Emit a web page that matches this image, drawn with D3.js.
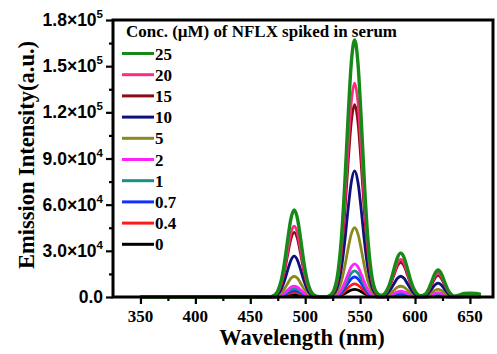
<!DOCTYPE html>
<html>
<head>
<meta charset="utf-8">
<script src="https://cdn.jsdelivr.net/npm/d3@7"></script>
<style>
  html, body { margin: 0; padding: 0; background: #fff; }
  svg { display: block; }
</style>
</head>
<body>
<svg id="chart" width="497" height="354"></svg>
<script>
// Wavelength grid (nm) shared by every spectrum
const wavelength = [350, 400, 450, 466, 472, 475, 478, 481, 484, 487, 490, 493, 496, 499, 502, 505,
  510, 515, 520, 525, 530, 533, 536, 539, 542, 545, 548, 551, 554, 557, 560, 565, 569,
  572, 575, 578, 581, 584, 587, 590, 593, 596, 599, 602, 605, 609,
  612, 615, 618, 621, 624, 627, 630, 633, 636, 640, 645, 650, 655, 660];

// NFLX concentrations (µM), legend order
const concentrations = ["25", "20", "15", "10", "5", "2", "1", "0.7", "0.4", "0"];

// Emission intensity (a.u.) for each concentration
const em25 = [0, 0, 0, 0, 1230, 3960, 10280, 21640, 36890, 50790, 56500, 50790, 36890, 21640, 10280, 3960,
  500, 30, 280, 2840, 16870, 38410, 72980, 115730, 152300, 167000, 152300, 115730, 72980, 38410, 16870, 2930, 1090,
  1995, 5187, 10916, 18611, 25622, 28500, 25622, 18611, 10916, 5187, 1995, 870, 1720,
  4585, 9660, 15085, 17500, 15085, 9660, 4585, 1680, 570, 1170, 2250, 2500, 2250, 1750];
const em20 = [0, 0, 0, 0, 1010, 3220, 8370, 17620, 30040, 41350, 46000, 41350, 30040, 17620, 8370, 3220,
  410, 0, 280, 2360, 14040, 31970, 60740, 96330, 126770, 139000, 126770, 96330, 60740, 31970, 14040, 2440, 960,
  1720, 4460, 9380, 16000, 22030, 24500, 22030, 16000, 9380, 4460, 1720, 770, 1520,
  4060, 8560, 13360, 15500, 13360, 8560, 4060, 1480, 480, 860, 1620, 1800, 1620, 1260];
const em15 = [0, 0, 0, 0, 920, 2940, 7640, 16090, 27430, 37760, 42000, 37760, 27430, 16090, 7640, 2940,
  380, 0, 250, 2130, 12630, 28750, 54630, 86630, 114000, 125000, 114000, 86630, 54630, 28750, 12630, 2190, 870,
  1580, 4100, 8620, 14690, 20230, 22500, 20230, 14690, 8620, 4100, 1580, 710, 1370,
  3670, 7730, 12070, 14000, 12070, 7730, 3670, 1330, 430, 720, 1350, 1500, 1350, 1050];
const em10 = [0, 0, 0, 0, 580, 1860, 4820, 10150, 17300, 23820, 26500, 23820, 17300, 10150, 4820, 1860,
  240, 0, 160, 1390, 8280, 18860, 35830, 56830, 74780, 82000, 74780, 56830, 35830, 18860, 8280, 1440, 540,
  950, 2460, 5170, 8820, 12140, 13500, 12140, 8820, 5170, 2460, 950, 430, 880,
  2360, 4970, 7760, 9000, 7760, 4970, 2360, 860, 280, 480, 900, 1000, 900, 700];
const em5 = [0, 0, 0, 0, 300, 950, 2460, 5170, 8820, 12140, 13500, 12140, 8820, 5170, 2460, 950,
  120, 0, 90, 770, 4550, 10350, 19670, 31190, 41040, 45000, 41040, 31190, 19670, 10350, 4550, 790, 290,
  490, 1270, 2680, 4570, 6290, 7000, 6290, 4570, 2680, 1270, 490, 230, 490,
  1310, 2760, 4310, 5000, 4310, 2760, 1310, 480, 160, 290, 540, 600, 540, 420];
const em2 = [0, 0, 0, 0, 150, 490, 1270, 2680, 4570, 6290, 7000, 6290, 4570, 2680, 1270, 490,
  60, 0, 40, 370, 2170, 4950, 9400, 14900, 19610, 21500, 19610, 14900, 9400, 4950, 2170, 380, 150,
  270, 690, 1460, 2480, 3420, 3800, 3420, 2480, 1460, 690, 270, 130, 270,
  730, 1550, 2410, 2800, 2410, 1550, 730, 270, 90, 190, 360, 400, 360, 280];
const em1 = [0, 0, 0, 0, 120, 390, 1000, 2110, 3590, 4940, 5500, 4940, 3590, 2110, 1000, 390,
  50, 0, 30, 290, 1720, 3910, 7430, 11780, 15500, 17000, 15500, 11780, 7430, 3910, 1720, 300, 120,
  210, 550, 1150, 1960, 2700, 3000, 2700, 1960, 1150, 550, 210, 100, 210,
  580, 1210, 1900, 2200, 1900, 1210, 580, 210, 70, 140, 270, 300, 270, 210];
const em07 = [0, 0, 0, 0, 90, 290, 760, 1610, 2740, 3780, 4200, 3780, 2740, 1610, 760, 290,
  40, 0, 30, 220, 1310, 2990, 5680, 9010, 11860, 13000, 11860, 9010, 5680, 2990, 1310, 230, 90,
  160, 420, 880, 1500, 2070, 2300, 2070, 1500, 880, 420, 160, 80, 160,
  420, 880, 1380, 1600, 1380, 880, 420, 150, 50, 120, 230, 250, 230, 180];
const em04 = [0, 0, 0, 0, 70, 210, 550, 1150, 1960, 2700, 3000, 2700, 1960, 1150, 550, 210,
  30, 0, 20, 140, 860, 1960, 3710, 5890, 7750, 8500, 7750, 5890, 3710, 1960, 860, 150, 60,
  110, 290, 610, 1040, 1440, 1600, 1440, 1040, 610, 290, 110, 50, 110,
  290, 610, 950, 1100, 950, 610, 290, 110, 40, 90, 180, 200, 180, 140];
const em0 = [0, 0, 0, 0, 30, 110, 270, 570, 980, 1350, 1500, 1350, 980, 570, 270, 110,
  10, 0, 10, 90, 510, 1150, 2190, 3470, 4560, 5000, 4560, 3470, 2190, 1150, 510, 90, 30,
  60, 160, 340, 590, 810, 900, 810, 590, 340, 160, 60, 30, 60,
  160, 330, 520, 600, 520, 330, 160, 60, 20, 50, 90, 100, 90, 70];

const intensities = [em25, em20, em15, em10, em5, em2, em1, em07, em04, em0];
const colors = ["#168a16", "#ff2a82", "#8b0a14", "#10107c", "#8a8a1c", "#ff22ff", "#17908a", "#1030ff", "#ff1a1a", "#000000"];

const xTicks = [350, 400, 450, 500, 550, 600, 650];
const yTicks = [0, 30000, 60000, 90000, 120000, 150000, 180000];
const yTickLabels = [["0.0", ""], ["3.0×10", "4"], ["6.0×10", "4"], ["9.0×10", "4"],
  ["1.2×10", "5"], ["1.5×10", "5"], ["1.8×10", "5"]];

const legendTitle = "Conc. (µM) of NFLX spiked in serum";
const xTitle = "Wavelength (nm)";
const yTitle = "Emission Intensity(a.u.)";

// Layout
const plot = { left: 113, right: 493, top: 20, bottom: 297 };
const serif = "'Liberation Serif', 'Times New Roman', serif";
const sans = "'Liberation Sans', Arial, sans-serif";

const svg = d3.select("#chart");

const x = d3.scaleLinear().domain([325, 671]).range([plot.left, plot.right]);
const y = d3.scaleLinear().domain([0, 180000]).range([plot.bottom, plot.top]);

// Spectra: lowest concentration first so the strongest curve sits on top
const line = d3.line()
  .x((d, i) => x(wavelength[i]))
  .y(d => y(d))
  .curve(d3.curveMonotoneX);

const order = d3.range(intensities.length).reverse();
svg.append("g")
  .selectAll("path")
  .data(order)
  .join("path")
  .attr("d", i => line(intensities[i]))
  .attr("fill", "none")
  .attr("stroke", i => colors[i])
  .attr("stroke-width", i => i === 0 ? 3.4 : 2.8)
  .attr("stroke-linejoin", "round");

// Frame
svg.append("rect")
  .attr("x", plot.left).attr("y", plot.top)
  .attr("width", plot.right - plot.left).attr("height", plot.bottom - plot.top)
  .attr("fill", "none").attr("stroke", "#000").attr("stroke-width", 3);

// X axis ticks (major + minor)
const xMinor = d3.range(350, 675, 25).filter(v => !xTicks.includes(v));
const xAxis = svg.append("g").attr("transform", `translate(0,${plot.bottom})`);
xAxis.call(d3.axisBottom(x).tickValues(xMinor).tickSize(4).tickFormat(""));
xAxis.append("g").call(d3.axisBottom(x).tickValues(xTicks).tickSize(7).tickFormat(""));
xAxis.selectAll(".domain").remove();
xAxis.selectAll("line").attr("stroke", "#000").attr("stroke-width", 2.2);

svg.append("g").selectAll("text")
  .data(xTicks)
  .join("text")
  .attr("x", d => x(d))
  .attr("y", 322)
  .attr("text-anchor", "middle")
  .attr("font-family", serif)
  .attr("font-weight", "bold")
  .attr("font-size", 17)
  .text(d => d);

// Y axis ticks (major + minor)
const yMinor = d3.range(15000, 180000, 30000);
const yAxis = svg.append("g").attr("transform", `translate(${plot.left},0)`);
yAxis.call(d3.axisLeft(y).tickValues(yMinor).tickSize(4).tickFormat(""));
yAxis.append("g").call(d3.axisLeft(y).tickValues(yTicks).tickSize(7).tickFormat(""));
yAxis.selectAll(".domain").remove();
yAxis.selectAll("line").attr("stroke", "#000").attr("stroke-width", 2.2);

const yLab = svg.append("g").selectAll("text")
  .data(yTicks)
  .join("text")
  .attr("x", 103)
  .attr("y", d => y(d) + 6)
  .attr("text-anchor", "end")
  .attr("font-family", sans)
  .attr("font-weight", "bold")
  .attr("font-size", 17.5);
yLab.append("tspan").text((d, i) => yTickLabels[i][0]);
yLab.append("tspan")
  .attr("dy", -8)
  .attr("font-size", 11.5)
  .text((d, i) => yTickLabels[i][1]);

// Axis titles
svg.append("text")
  .attr("x", 302)
  .attr("y", 345)
  .attr("text-anchor", "middle")
  .attr("font-family", serif)
  .attr("font-weight", "bold")
  .attr("font-size", 22.5)
  .text(xTitle);

svg.append("text")
  .attr("transform", "translate(34,155) rotate(-90)")
  .attr("text-anchor", "middle")
  .attr("font-family", serif)
  .attr("font-weight", "bold")
  .attr("font-size", 22.5)
  .text(yTitle);

// Legend
const legend = svg.append("g");
legend.append("text")
  .attr("x", 126).attr("y", 37)
  .attr("font-family", serif)
  .attr("font-weight", "bold")
  .attr("font-size", 17)
  .attr("textLength", 271)
  .attr("lengthAdjust", "spacingAndGlyphs")
  .text(legendTitle);

const rows = legend.selectAll("g.row")
  .data(concentrations)
  .join("g")
  .attr("class", "row")
  .attr("transform", (d, i) => `translate(0,${53.5 + i * 21.2})`);
rows.append("line")
  .attr("x1", 122).attr("x2", 154)
  .attr("stroke", (d, i) => colors[i])
  .attr("stroke-width", 3);
rows.append("text")
  .attr("x", 155).attr("y", 6)
  .attr("font-family", serif)
  .attr("font-weight", "bold")
  .attr("font-size", 17)
  .text(d => d);
</script>
</body>
</html>
